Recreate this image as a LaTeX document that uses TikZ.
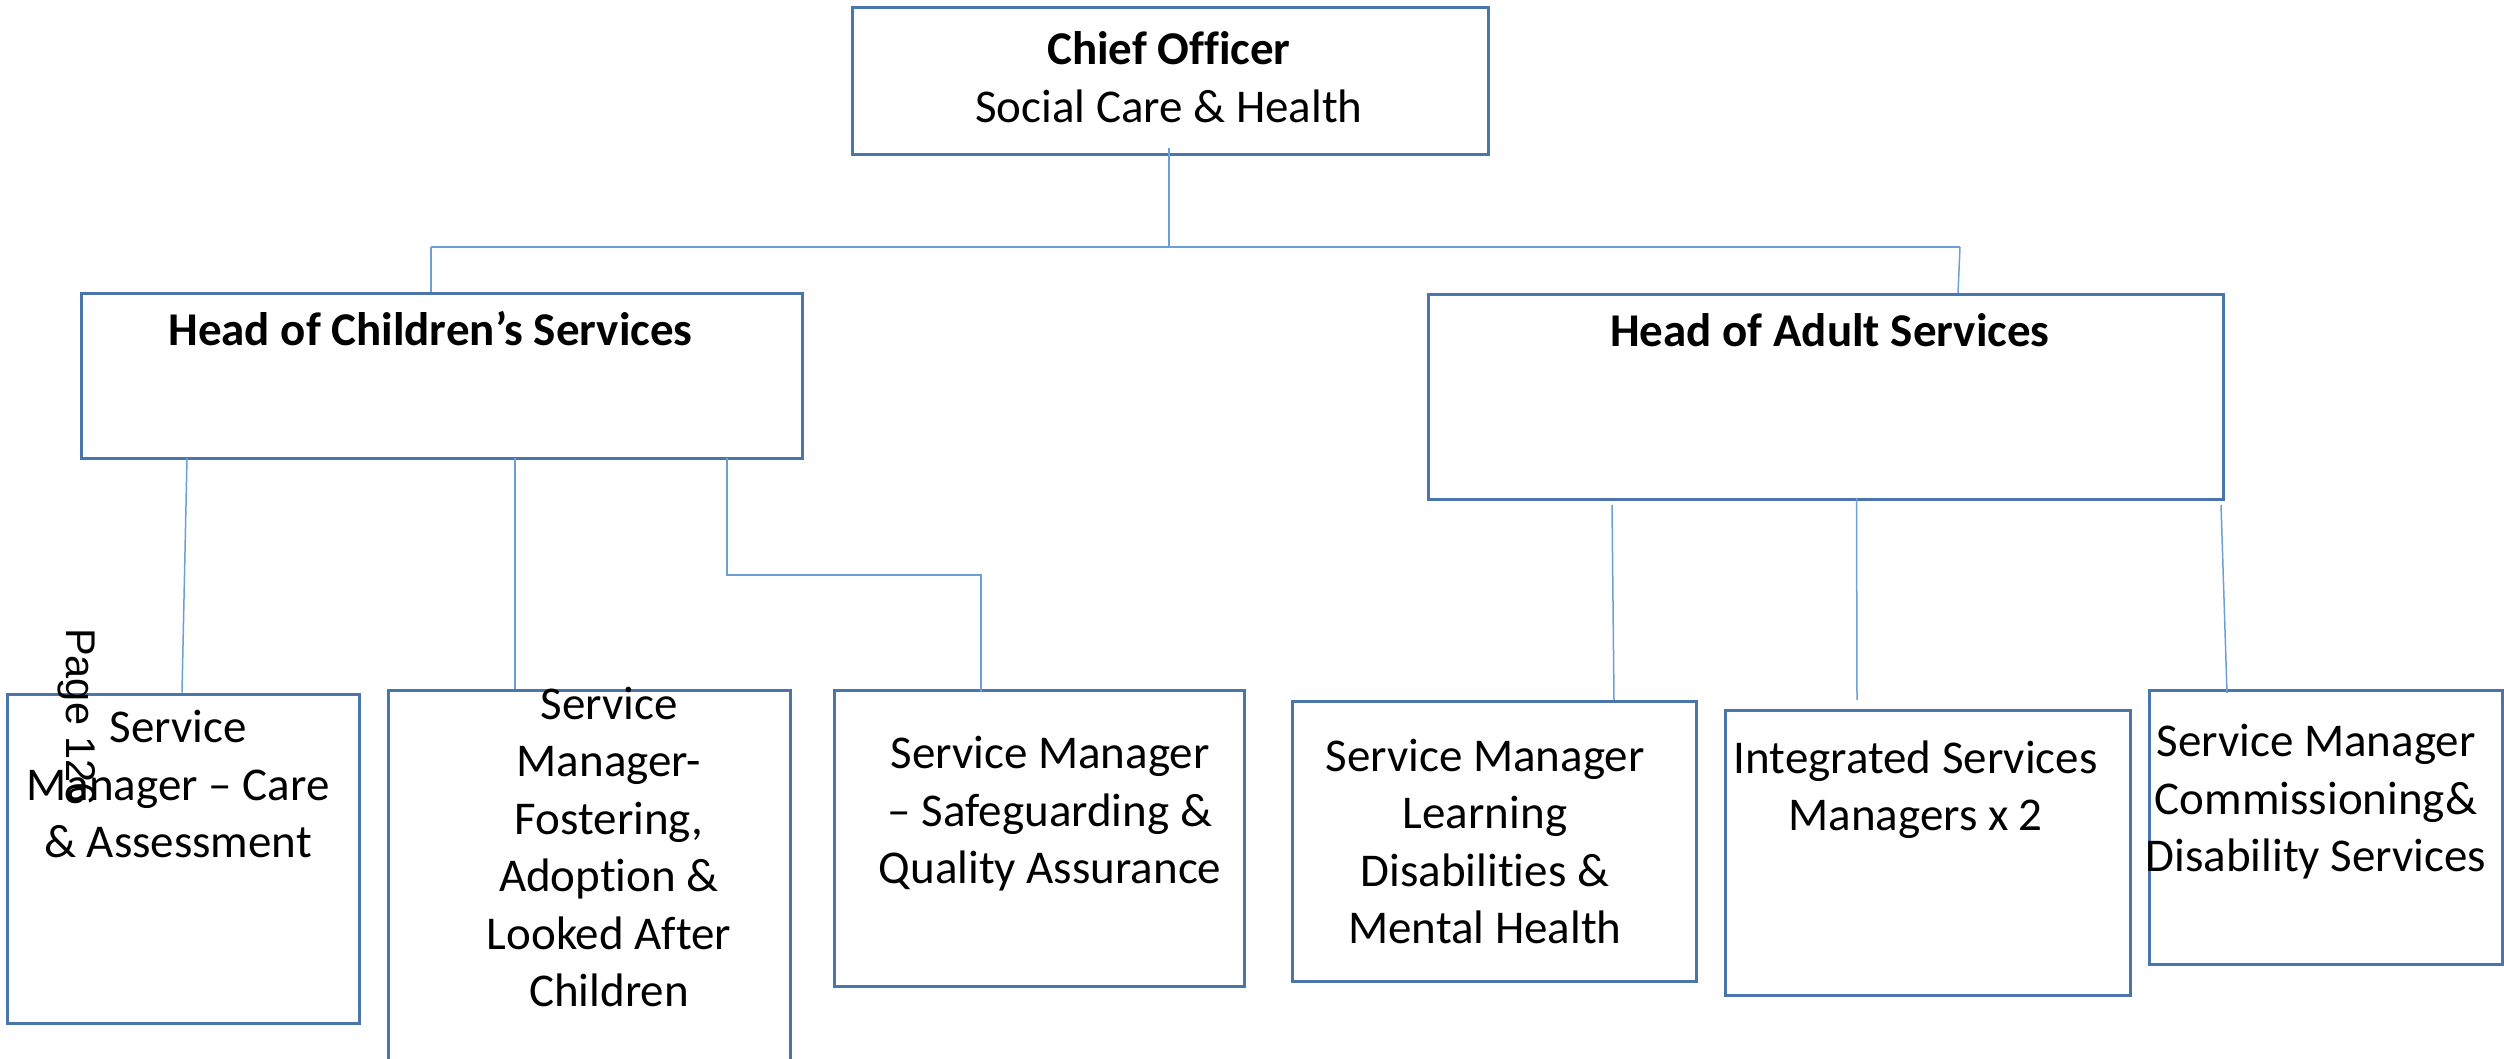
\documentclass[tikz,border=0pt]{standalone}
\usepackage{fontspec}
\setmainfont{Carlito}[Ligatures=NoCommon]
\newfontfamily\arialfont{Liberation Sans}
\definecolor{boxblue}{HTML}{4A76AB}
\definecolor{linkblue}{HTML}{6A9FD8}
\begin{document}
\begin{tikzpicture}[x=1pt,y=-1pt,
  box/.style={draw=boxblue, line width=3pt, inner sep=0pt, anchor=north west},
  txt/.style={font=\fontsize{47}{57.4}\selectfont, align=center, anchor=base, inner sep=0pt},
  headtxt/.style={font=\fontsize{47}{57.4}\selectfont\bfseries, align=center, anchor=base, inner sep=0pt},
  conn/.style={draw=linkblue, line width=1.5pt}]
\useasboundingbox (0,0) rectangle (2504,1059);
\clip (0,0) rectangle (2504,1059);

% boxes
\node[box, minimum width=636.5pt, minimum height=147pt] (chief) at (850.5,6) {};
\node[box, minimum width=720.6pt, minimum height=165pt] (child) at (80,292) {};
\node[box, minimum width=794.5pt, minimum height=204.7pt] (adult) at (1427,293) {};
\node[box, minimum width=352pt, minimum height=329.3pt] (care) at (6,692.7) {};
\node[box, minimum width=402pt, minimum height=400pt] (fost) at (387,689) {};
\node[box, minimum width=410pt, minimum height=296pt] (safe) at (833,689) {};
\node[box, minimum width=404pt, minimum height=280pt] (ld) at (1291,700) {};
\node[box, minimum width=404.6pt, minimum height=285pt] (ism) at (1724,709) {};
\node[box, minimum width=353pt, minimum height=274.4pt] (comm) at (2148,688.6) {};

% texts (multi-line nodes are placed by the baseline of their last line)
\node[headtxt] (chiefT) at (1169,65) {Chief Officer};
\node[txt] (chiefS) at (1169,123) {Social Care \& Health};
\node[headtxt] (childT) at (430.5,345.7) {Head of Children’s Services};
\node[headtxt] (adultT) at (1830,346.7) {Head of Adult Services};
\node[txt] (careT) at (178,857.5) {Service\\Manager – Care\\\& Assessment};
\node[txt] (fostT) at (609,1006.5) {Service\\Manager-\\Fostering,\\Adoption \&\\Looked After\\Children};
\node[txt] (safeT) at (1050,883.5) {Service Manager\\– Safeguarding \&\\Quality Assurance};
\node[txt] (ldT) at (1485,943.5) {Service Manager\\Learning\\Disabilities \&\\Mental Health};
\node[txt] (ismT) at (1915.6,830.5) {Integrated Services\\Managers x 2};
\node[txt] (commT) at (2316,871.5) {Service Manager\\Commissioning\&\\Disability Services};

% connector points
\coordinate (chiefOut) at (1169,148);
\coordinate (busC) at (1169,247);
\coordinate (busL) at (431,247);
\coordinate (busR) at (1960,247);
\coordinate (adultIn) at (1958,293);
\coordinate (c1a) at (187,458);
\coordinate (c1b) at (182,692.7);
\coordinate (c2a) at (515,458);
\coordinate (c3a) at (727,458);
\coordinate (c3b) at (727,575);
\coordinate (c3c) at (981,575);
\coordinate (c3d) at (981,692);
\coordinate (a1a) at (1612,505);
\coordinate (a1b) at (1614,700);
\coordinate (a2a) at (1856.5,498);
\coordinate (a2b) at (1857,700);
\coordinate (a3a) at (2221,505);
\coordinate (a3b) at (2227,693);

\draw[conn] (chiefOut) -- (busC);
\draw[conn] (busL) -- (busR);
\draw[conn] (busL) -- (busL |- child.north);
\draw[conn] (busR) -- (adultIn);
\draw[conn] (c1a) -- (c1b);
\draw[conn] (c2a) -- (c2a |- fost.north);
\draw[conn] (c3a) -- (c3b) -- (c3c) -- (c3d);
\draw[conn] (a1a) -- (a1b);
\draw[conn] (a2a) -- (a2b);
\draw[conn] (a3a) -- (a3b);

% page number
\node[font=\arialfont\fontsize{41.5}{41.5}\selectfont, rotate=-90, anchor=base west, inner sep=0pt] (pg) at (66.7,628) {Page 126};
\end{tikzpicture}
\end{document}
